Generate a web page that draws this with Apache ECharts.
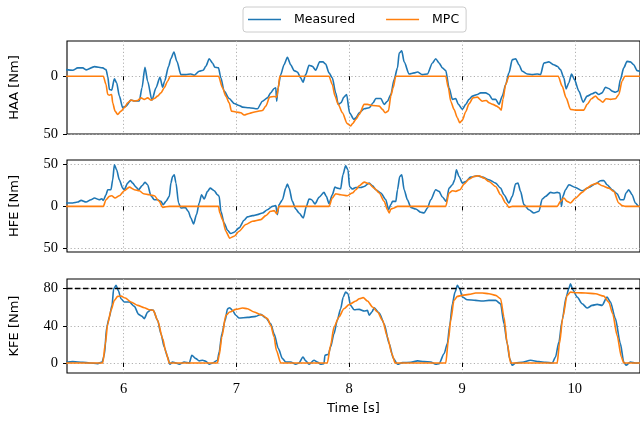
<!DOCTYPE html>
<html>
<head>
<meta charset="utf-8">
<script src="https://cdn.jsdelivr.net/npm/echarts@6/dist/echarts.min.js"></script>
<style>
  html, body { margin: 0; padding: 0; background: #fff; }
  #chart { width: 640px; height: 421px; }
</style>
</head>
<body>
<div id="chart"></div>
<script>
// [time s, torque Nm]
var haaMeasured = [
  [5.490,5.7],[5.549,5.2],[5.593,7.2],[5.638,7.2],[5.667,5.5],[5.741,8.3],[5.815,7.2],[5.844,5.7],[5.859,0],
  [5.874,-11.5],[5.894,-12],[5.918,-2.3],[5.938,-5.7],[5.962,-17],[5.992,-27.3],[6.021,-25.9],[6.065,-20.7],
  [6.095,-21.5],[6.139,-21.5],[6.163,-10],[6.189,7.8],[6.213,-4.3],[6.251,-20.7],[6.287,-10],[6.322,-1],
  [6.346,-9.5],[6.363,-4.3],[6.399,8.6],[6.419,15.2],[6.446,21],[6.472,12.9],[6.508,1.4],[6.552,1.4],
  [6.596,2],[6.626,0.9],[6.670,4.3],[6.705,5.2],[6.729,8.6],[6.759,15.2],[6.788,11.5],[6.809,7.8],
  [6.841,7.2],[6.862,-1.4],[6.891,-12.9],[6.936,-19.3],[6.980,-23.6],[7.024,-25.3],[7.054,-26.7],
  [7.113,-27.3],[7.186,-28.2],[7.231,-21.6],[7.275,-18.7],[7.304,-14.4],[7.334,-10.6],[7.349,-10],
  [7.357,-21.6],[7.369,-10],[7.393,1.4],[7.422,10],[7.452,16.4],[7.481,10],[7.511,4.9],[7.540,3.7],
  [7.570,-1.4],[7.590,-5.2],[7.614,1.4],[7.644,9.5],[7.673,8.6],[7.703,5.2],[7.738,12.4],[7.767,12.4],
  [7.791,10.6],[7.821,2.9],[7.850,-1.4],[7.880,-14.4],[7.903,-24.4],[7.927,-23],[7.953,-18.1],
  [7.977,-15.8],[8.003,-31.6],[8.042,-37.4],[8.059,-36],[8.089,-31.6],[8.133,-28.2],[8.177,-27.3],
  [8.212,-23],[8.236,-19.3],[8.280,-19.3],[8.310,-24.4],[8.339,-21.6],[8.369,-15.8],[8.398,-2.9],
  [8.428,7.2],[8.443,20],[8.466,22],[8.487,12.4],[8.531,2],[8.575,2.9],[8.605,3.7],[8.649,1.4],
  [8.693,2],[8.738,11.5],[8.767,15.2],[8.797,11.5],[8.826,7.2],[8.856,4.9],[8.885,-10],[8.915,-20],
  [8.944,-19.3],[8.968,-24.4],[9.003,-28.7],[9.033,-24.4],[9.062,-20],[9.092,-17.2],[9.136,-15.8],
  [9.165,-14.4],[9.210,-14.4],[9.239,-15.8],[9.269,-20],[9.298,-20],[9.328,-24.4],[9.357,-17.2],
  [9.387,-7.2],[9.416,2.9],[9.446,14.4],[9.475,15.2],[9.505,10],[9.534,4.3],[9.578,2],[9.623,1.4],
  [9.667,2],[9.696,1.4],[9.726,11.5],[9.770,12.4],[9.814,10],[9.844,8.6],[9.873,5.7],[9.903,-1.4],
  [9.923,-10.9],[9.947,-5.7],[9.971,2],[9.997,-2.9],[10.036,-12.9],[10.074,-22.4],[10.109,-17.2],
  [10.154,-15.2],[10.183,-13.8],[10.213,-15.8],[10.242,-14.4],[10.272,-9.5],[10.301,-10.6],
  [10.331,-12.9],[10.360,-13.8],[10.384,-12.9],[10.404,-2.9],[10.434,7.2],[10.463,12.9],[10.493,12.4],
  [10.522,10],[10.552,4.9],[10.596,3.5]
];
var haaMpc = [
  [5.490,0],[5.820,0],[5.844,-7.2],[5.859,-15.8],[5.874,-16.4],[5.894,-15.8],[5.903,-23],[5.924,-30.2],
  [5.947,-33],[5.977,-30.2],[6.006,-27.3],[6.036,-23],[6.065,-20.7],[6.095,-21.5],[6.124,-21],
  [6.154,-18.7],[6.183,-20],[6.213,-18.7],[6.242,-20.7],[6.272,-19.3],[6.301,-17.2],[6.331,-14.4],
  [6.360,-10],[6.390,-4.3],[6.413,0],[6.841,0],[6.877,-10],[6.906,-17.2],[6.936,-23],[6.956,-30.2],
  [6.995,-31],[7.039,-31.6],[7.068,-33.6],[7.113,-32.2],[7.172,-30.7],[7.231,-29.6],[7.260,-25.9],
  [7.295,-18.1],[7.334,-17.5],[7.357,-18.1],[7.372,-10],[7.384,0],[7.821,0],[7.850,-7.2],[7.874,-17.2],
  [7.903,-24.4],[7.939,-31.6],[7.983,-41],[8.012,-43],[8.030,-41],[8.059,-37.4],[8.089,-33],
  [8.133,-24.4],[8.162,-24.4],[8.207,-25.3],[8.266,-25.9],[8.295,-28.7],[8.319,-31.6],[8.348,-30],
  [8.369,-17.2],[8.389,-10],[8.413,0],[8.856,0],[8.879,-10],[8.900,-21.6],[8.929,-28.7],[8.959,-36],
  [8.979,-40.2],[9.003,-38],[9.033,-30.7],[9.062,-23.9],[9.097,-18.7],[9.136,-18.1],[9.180,-21.6],
  [9.215,-21],[9.239,-23],[9.274,-24.4],[9.307,-25.9],[9.328,-27.3],[9.348,-29.3],[9.363,-20],
  [9.387,-7.2],[9.416,0],[9.853,0],[9.888,-8.6],[9.923,-18.7],[9.962,-28.7],[10.006,-29.3],
  [10.080,-29.3],[10.109,-24.4],[10.148,-19.5],[10.183,-17.2],[10.213,-20],[10.248,-22.4],
  [10.277,-19.5],[10.316,-20],[10.360,-19.5],[10.390,-15.8],[10.419,-4.3],[10.443,0],[10.600,0]
];
var hfeMeasured = [
  [5.490,4],[5.549,4],[5.593,5.1],[5.623,7.1],[5.667,5.1],[5.711,7.9],[5.741,9.9],[5.785,7.9],[5.806,9.1],
  [5.820,7.1],[5.844,13.8],[5.859,19.8],[5.888,19.8],[5.903,31.6],[5.918,49.4],[5.938,43.5],[5.962,31.6],
  [5.992,21.7],[6.006,19.8],[6.036,27.7],[6.059,30.8],[6.080,27.7],[6.110,22.9],[6.133,19.8],[6.163,24.5],
  [6.189,28.5],[6.213,25.7],[6.242,12.6],[6.272,7.9],[6.301,7.9],[6.331,5.9],[6.351,2],[6.375,5.9],
  [6.405,11.9],[6.419,27.7],[6.434,35.6],[6.449,37.5],[6.464,27.7],[6.487,4],[6.508,-2],[6.546,-1.2],
  [6.573,-5.9],[6.596,-13.8],[6.620,-20.9],[6.646,-9.9],[6.670,4],[6.691,13.8],[6.714,8.7],[6.744,17.8],
  [6.767,21.7],[6.803,18.6],[6.832,13.8],[6.847,11.9],[6.862,-5.9],[6.891,-19.8],[6.921,-28.5],
  [6.950,-32.4],[6.980,-30.8],[7.024,-25.7],[7.068,-16.6],[7.098,-12.6],[7.142,-11.1],[7.186,-9.9],
  [7.231,-7.9],[7.275,-4],[7.319,0],[7.349,0.8],[7.363,-9.9],[7.378,2],[7.408,7.9],[7.437,21.7],
  [7.452,26.5],[7.467,21.7],[7.496,5.9],[7.526,-3.2],[7.555,-7.9],[7.593,-13.8],[7.620,0],[7.644,8.7],
  [7.667,7.9],[7.697,2.8],[7.732,10.7],[7.776,16.6],[7.797,11.9],[7.821,3.2],[7.850,13.8],[7.874,22.9],
  [7.894,21.7],[7.924,20.9],[7.944,37.5],[7.968,48.2],[7.989,43.5],[8.003,23.7],[8.027,20.6],
  [8.059,22.5],[8.103,22.5],[8.133,23.7],[8.177,27.7],[8.207,24.5],[8.236,19.8],[8.280,15.8],
  [8.325,7.9],[8.348,-4],[8.369,2],[8.384,5.9],[8.413,5.9],[8.428,19.8],[8.448,35.6],[8.466,37.5],
  [8.487,19.8],[8.516,7.9],[8.546,-1.2],[8.590,-3.2],[8.634,-7.1],[8.664,-7.9],[8.693,-2],[8.723,7.9],
  [8.767,19.8],[8.797,17.8],[8.826,11.1],[8.861,5.9],[8.885,21.7],[8.915,25.7],[8.935,31.6],
  [8.950,43.5],[8.974,35.6],[9.003,27.7],[9.033,29.6],[9.077,34.8],[9.136,36.4],[9.180,34.8],
  [9.239,31.6],[9.298,27.7],[9.342,21.7],[9.372,13.8],[9.416,4],[9.446,11.9],[9.475,26.9],[9.496,27.7],
  [9.519,17.8],[9.549,2],[9.593,-4],[9.637,-7.9],[9.682,-5.9],[9.711,8.7],[9.741,11.9],[9.785,16.6],
  [9.814,15.8],[9.844,16.6],[9.867,15.8],[9.882,0],[9.894,11.9],[9.918,19.8],[9.947,25.7],
  [10.006,22.5],[10.065,18.6],[10.124,22.5],[10.183,26.9],[10.227,30.4],[10.257,30.8],[10.286,25.7],
  [10.331,19.8],[10.375,15],[10.404,7.9],[10.434,7.9],[10.454,15.8],[10.478,19.8],[10.508,13.8],
  [10.537,4],[10.567,0],[10.596,-1]
];
var hfeMpc = [
  [5.490,0],[5.820,0],[5.844,7.9],[5.874,11.9],[5.894,12.6],[5.924,9.9],[5.962,12.6],[6.006,18.6],
  [6.051,22.9],[6.095,19.8],[6.139,18.6],[6.177,15],[6.228,13.8],[6.272,12.6],[6.316,5.9],[6.346,-1.2],
  [6.405,0],[6.841,0],[6.853,-7.9],[6.877,-15.8],[6.906,-29.6],[6.941,-37.9],[6.980,-35.6],[7.024,-29.6],
  [7.083,-21.7],[7.142,-17.8],[7.216,-15.8],[7.260,-11.1],[7.304,-5.9],[7.334,-5.1],[7.357,-8.7],
  [7.378,0],[7.821,0],[7.850,9.9],[7.880,15],[7.924,13.8],[7.983,12.6],[8.027,15.8],[8.059,19.8],
  [8.089,24.5],[8.133,28.9],[8.177,26.9],[8.221,21.7],[8.266,15.8],[8.310,5.9],[8.339,-4],[8.354,-7.9],
  [8.369,-3.2],[8.398,-2],[8.428,0],[8.856,0],[8.885,15.8],[8.915,18.6],[8.944,17.8],[8.982,19.8],
  [9.018,26.5],[9.062,32.4],[9.106,35.6],[9.151,36.4],[9.195,33.6],[9.239,29.6],[9.298,23.7],
  [9.342,13.8],[9.387,4],[9.416,-1.2],[9.446,0],[9.844,0],[9.873,5.9],[9.903,9.9],[9.932,5.9],
  [9.962,4],[10.006,9.9],[10.065,16.6],[10.109,21.7],[10.154,25.7],[10.198,27.7],[10.242,24.5],
  [10.301,21.7],[10.345,17.8],[10.390,4],[10.419,0.8],[10.449,0],[10.600,0]
];
var kfeMeasured = [
  [5.490,0.7],[5.549,1.4],[5.638,0.7],[5.697,0],[5.770,-0.7],[5.809,1.1],[5.829,8.2],[5.850,38.7],
  [5.874,49.5],[5.897,62],[5.912,80],[5.933,83.5],[5.953,78],[5.977,69.2],[6.006,65.6],[6.051,65.6],
  [6.095,60.9],[6.133,52.3],[6.163,50.2],[6.183,47.7],[6.213,54.8],[6.242,57.3],[6.263,56.6],
  [6.301,45.9],[6.331,31.5],[6.360,17.2],[6.390,6.5],[6.410,-1.4],[6.434,1.1],[6.464,0],[6.493,-1.4],
  [6.537,1.1],[6.582,0],[6.605,8.2],[6.641,4.7],[6.670,2.2],[6.700,2.9],[6.729,1.8],[6.759,-1.4],
  [6.788,0],[6.832,2.9],[6.847,11.8],[6.871,31.5],[6.900,45.9],[6.921,58.4],[6.941,59.5],[6.965,56.6],
  [6.995,51.3],[7.024,48.4],[7.098,49.1],[7.172,50.2],[7.216,52.3],[7.260,48.7],[7.304,42.3],
  [7.334,31.5],[7.372,15.4],[7.408,4.7],[7.437,1.1],[7.481,1.1],[7.526,-1.4],[7.555,0],[7.590,6.5],
  [7.614,2.2],[7.644,-1.4],[7.688,2.9],[7.717,1.1],[7.747,-1.4],[7.776,-0.7],[7.785,8.2],[7.815,9.3],
  [7.835,17.2],[7.865,31.5],[7.894,45.9],[7.924,58.4],[7.947,71],[7.968,76.3],[7.989,74.6],[8.012,62],
  [8.044,57.3],[8.089,57.7],[8.133,55.9],[8.162,56.6],[8.177,51.3],[8.201,54.8],[8.221,59.5],
  [8.266,53.8],[8.310,42.3],[8.354,20.8],[8.392,4.7],[8.428,-1.4],[8.472,0.4],[8.546,0.7],[8.605,2.2],
  [8.664,1.4],[8.723,1.1],[8.767,-1.4],[8.797,-0.7],[8.841,10],[8.870,20.8],[8.891,40.5],[8.915,63.8],
  [8.938,76.3],[8.959,83.5],[8.979,80],[9.003,71],[9.047,68.1],[9.121,67.4],[9.180,66.7],[9.239,67.4],
  [9.298,67.4],[9.342,63.8],[9.372,42.3],[9.401,20.8],[9.422,4.7],[9.446,-2.5],[9.475,0],[9.534,0.7],
  [9.608,2.9],[9.682,1.4],[9.741,0.7],[9.800,0],[9.829,6.5],[9.859,22.6],[9.888,45.9],[9.923,71],
  [9.947,80],[9.962,85.3],[9.982,78.9],[10.021,71],[10.065,63.8],[10.109,59.1],[10.154,62],
  [10.198,63.1],[10.242,62],[10.286,71],[10.316,65.6],[10.360,47.7],[10.404,20.8],[10.434,1.1],
  [10.454,-2.5],[10.493,1.1],[10.537,0],[10.596,0]
];
var kfeMpc = [
  [5.490,0],[5.815,0],[5.838,20.8],[5.859,42.3],[5.888,56.6],[5.918,67.4],[5.947,71.7],[5.977,72],
  [6.015,69.9],[6.065,65.6],[6.124,62],[6.183,59.5],[6.228,57.3],[6.263,56.6],[6.301,45.9],[6.346,26.2],
  [6.375,11.8],[6.405,0],[6.832,0],[6.847,8.2],[6.871,28],[6.906,51.3],[6.941,54.8],[6.995,57.7],
  [7.054,59.1],[7.098,58.4],[7.157,54.8],[7.231,51.3],[7.275,47.7],[7.304,40.5],[7.334,28],[7.354,13.6],
  [7.393,0],[7.806,0],[7.835,19],[7.865,38.7],[7.909,49.5],[7.953,58.4],[8.000,63],[8.059,66.7],
  [8.089,69.2],[8.124,70.3],[8.162,66.7],[8.207,60.2],[8.251,54.8],[8.295,45.9],[8.339,28],[8.378,10],
  [8.407,0],[8.856,0],[8.879,24.4],[8.900,45.9],[8.929,67.4],[8.959,71.7],[9.003,72.8],[9.062,73.8],
  [9.121,75.3],[9.180,75.3],[9.239,74.6],[9.298,72.8],[9.342,69.2],[9.372,49.5],[9.401,20.8],[9.431,0],
  [9.844,0],[9.864,20.8],[9.894,49.5],[9.932,72.8],[9.962,76.3],[10.021,75.6],[10.095,75.3],
  [10.183,74.6],[10.257,72],[10.301,65.6],[10.336,53],[10.375,29.7],[10.413,6.5],[10.434,0],[10.600,0]
];
var kfeLimit = 80;

var timeTicks = [6, 7, 8, 9, 10];
var haaTicks = [-50, 0];
var hfeTicks = [-50, 0, 50];
var kfeTicks = [0, 40, 80];

var chart = echarts.init(document.getElementById('chart'));

var blue = '#1f77b4', orange = '#ff7f0e';
var gridLine = { show: true, lineStyle: { color: '#b0b0b0', type: [1.2, 2.4], width: 1 } };
var tickFont = { fontFamily: 'Liberation Serif', fontSize: 14.5, color: '#000' };
var nameFont = { fontFamily: 'DejaVu Sans', fontSize: 13, color: '#000' };

function xAxisFor(i, last) {
    return {
        type: 'value', gridIndex: i, min: 5.498, max: 10.578,
        axisLine: { show: false },
        axisTick: { show: true, customValues: timeTicks, length: 4, lineStyle: { color: '#000' } },
        axisLabel: Object.assign({ show: last, customValues: timeTicks, margin: 9 }, tickFont),
        splitLine: gridLine,
        name: last ? 'Time [s]' : '', nameLocation: 'middle', nameGap: 29,
        nameTextStyle: nameFont
    };
}
function yAxisFor(i, name, min, max, ticks) {
    return {
        type: 'value', gridIndex: i, min: min, max: max, name: name,
        nameLocation: 'middle', nameGap: 46, nameTextStyle: nameFont,
        axisLine: { show: false },
        axisTick: { show: true, customValues: ticks, length: 4, lineStyle: { color: '#000' } },
        axisLabel: Object.assign({
            customValues: ticks, margin: 9,
            formatter: function (v) { return String(Math.abs(v)); }
        }, tickFont),
        splitLine: gridLine
    };
}
function line(name, data, color, i) {
    return {
        name: name, type: 'line', data: data, xAxisIndex: i, yAxisIndex: i,
        showSymbol: false, symbol: 'none', smooth: 0.25, smoothMonotone: 'x',
        lineStyle: { color: color, width: 1.6 },
        itemStyle: { color: color }, z: name === 'MPC' ? 3 : 2
    };
}

var border = { show: true, borderColor: '#000', borderWidth: 1.1, backgroundColor: 'transparent' };

var option = {
    backgroundColor: '#fff',
    animation: false,
    legend: {
        left: 243, top: 7, padding: [6, 7, 6, 5],
        borderColor: '#cccccc', borderWidth: 1, borderRadius: 3,
        icon: 'rect', itemWidth: 33, itemHeight: 1.5, itemGap: 31,
        textStyle: { fontFamily: 'DejaVu Sans', fontSize: 12.5, color: '#000', padding: [0, 0, 0, 8] },
        data: ['Measured', 'MPC']
    },
    grid: [
        Object.assign({ left: 67, right: -2, top: 41, height: 93 }, border),
        Object.assign({ left: 67, right: -2, top: 160, height: 92 }, border),
        Object.assign({ left: 67, right: -2, top: 279, height: 94 }, border)
    ],
    xAxis: [xAxisFor(0, false), xAxisFor(1, false), xAxisFor(2, true)],
    yAxis: [
        yAxisFor(0, 'HAA [Nm]', -50, 30.5, haaTicks),
        yAxisFor(1, 'HFE [Nm]', -54.4, 55.2, hfeTicks),
        yAxisFor(2, 'KFE [Nm]', -10.8, 90.4, kfeTicks)
    ],
    series: [
        line('Measured', haaMeasured, blue, 0),
        line('MPC', haaMpc, orange, 0),
        line('Measured', hfeMeasured, blue, 1),
        line('MPC', hfeMpc, orange, 1),
        line('Measured', kfeMeasured, blue, 2),
        Object.assign(line('MPC', kfeMpc, orange, 2), {
            markLine: {
                silent: true, symbol: 'none', label: { show: false },
                lineStyle: { color: '#000', type: [5.5, 2.5], width: 1.3 },
                data: [{ yAxis: kfeLimit }]
            }
        })
    ]
};
chart.setOption(option);
</script>
</body>
</html>
